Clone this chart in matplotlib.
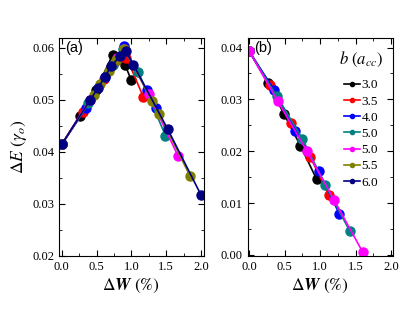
import numpy as np
import matplotlib
matplotlib.use('Agg')
import matplotlib.pyplot as plt
from matplotlib.lines import Line2D
from matplotlib.ticker import MultipleLocator

plt.rcParams['font.family'] = 'Liberation Serif'
plt.rcParams['mathtext.fontset'] = 'stix'

etiquetas = ['3.0', '3.5', '4.0', '5.0', '5.0', '5.5', '6.0']
colores = ['#000000', '#ff0000', '#0000ff', '#008080', '#ff00ff', '#808000', '#000080']

# panel (a)
xa = [
    [0, 0.26, 0.49, 0.73, 0.91, 1.00],
    [0, 0.31, 0.61, 0.93, 1.17],
    [0, 0.35, 0.62, 0.89, 1.22, 1.36],
    [0, 0.38, 0.74, 0.88, 1.10, 1.49],
    [0, 0.40, 0.80, 0.90, 1.25, 1.67],
    [0, 0.46, 0.55, 0.68, 0.78, 0.90, 1.30, 1.40, 1.84],
    [0, 0.41, 0.52, 0.62, 0.71, 0.83, 0.92, 1.03, 1.52, 2.00],
]
ya = [
    [0.0414, 0.0469, 0.0518, 0.0586, 0.0567, 0.0537],
    [0.0414, 0.0477, 0.0540, 0.0581, 0.0506],
    [0.0414, 0.0484, 0.0543, 0.0603, 0.0518, 0.0484],
    [0.0414, 0.0493, 0.0567, 0.0597, 0.0553, 0.0431],
    [0.0414, 0.0500, 0.0580, 0.0598, 0.0510, 0.0392],
    [0.0414, 0.0509, 0.0530, 0.0555, 0.0576, 0.0598, 0.0497, 0.0473, 0.0354],
    [0.0414, 0.0500, 0.0522, 0.0544, 0.0564, 0.0583, 0.0593, 0.0567, 0.0444, 0.0317],
]

# panel (b)
xb = [
    [0, 0.26, 0.49, 0.72, 0.95],
    [0, 0.30, 0.59, 0.86, 1.12],
    [0, 0.35, 0.65, 0.98, 1.27],
    [0, 0.39, 0.75, 1.07, 1.42],
    [0, 0.40, 0.81, 1.20, 1.60],
    [],
    [],
]
yb = [
    [0.0393, 0.0332, 0.0272, 0.0211, 0.0146],
    [0.0393, 0.0327, 0.0254, 0.0189, 0.0116],
    [0.0393, 0.0319, 0.0239, 0.0161, 0.0079],
    [0.0393, 0.0306, 0.0224, 0.0135, 0.0045],
    [0.0393, 0.0297, 0.0201, 0.0105, 0.0005],
    [],
    [],
]

fig = plt.figure(figsize=(4.15, 3.12), dpi=100)
ax1 = fig.add_axes([0.142, 0.18, 0.349, 0.699])
ax2 = fig.add_axes([0.597, 0.18, 0.349, 0.699])

for i in range(len(etiquetas)):
    ax1.plot(xa[i], ya[i], '-o', color=colores[i], ms=6.5, lw=1.2)
    ax2.plot(xb[i], yb[i], '-o', color=colores[i], ms=6.5, lw=1.2)

ax1.set_xlim(-0.04, 2.04)
ax1.set_ylim(0.02, 0.0619)
ax2.set_xlim(-0.02, 2.02)
ax2.set_ylim(-0.0002, 0.0419)

for ax in (ax1, ax2):
    ax.xaxis.set_major_locator(MultipleLocator(0.5))
    ax.xaxis.set_minor_locator(MultipleLocator(0.25))
    ax.yaxis.set_major_locator(MultipleLocator(0.01))
    ax.yaxis.set_minor_locator(MultipleLocator(0.005))
    ax.tick_params(which='both', direction='in', top=True, right=True, labelsize=9)
    ax.tick_params(which='major', length=4)
    ax.tick_params(which='minor', length=2)
    ax.xaxis.set_major_formatter(matplotlib.ticker.FormatStrFormatter('%.1f'))
    ax.yaxis.set_major_formatter(matplotlib.ticker.FormatStrFormatter('%.2f'))
    ax.set_xlabel(r'$\Delta\mathbfit{W}\ (\%)$', fontsize=12.5, labelpad=3)

ax1.set_ylabel(r'$\Delta E\ (\gamma_o)$', fontsize=12.5, labelpad=2)

ax1.text(0.045, 0.985, '(a)', transform=ax1.transAxes, va='top', ha='left',
         fontsize=10.5, family='Liberation Sans')
ax2.text(0.045, 0.985, '(b)', transform=ax2.transAxes, va='top', ha='left',
         fontsize=10.5, family='Liberation Sans')

manijas = [Line2D([], [], color=c, marker='o', ms=3, lw=1.2) for c in colores]
leg = ax2.legend(manijas, etiquetas, loc='upper right', bbox_to_anchor=(1.0, 0.985),
                 frameon=False, fontsize=9.5, handlelength=1.2, handletextpad=0.1,
                 labelspacing=0.3, title=r'$b\ (a_{cc})$', title_fontsize=12,
                 borderpad=0.2)
leg._legend_box.sep = 7

fig.savefig('out.png', dpi=100)
